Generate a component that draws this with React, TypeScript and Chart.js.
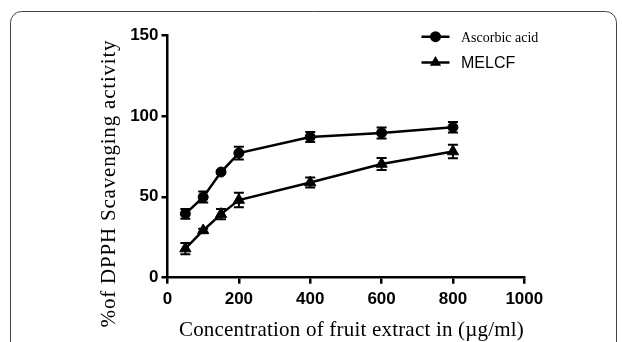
import React, { useEffect, useRef } from "react";
import { Chart, registerables } from "chart.js";

Chart.register(...registerables);

const concentrations = [50, 100, 150, 200, 400, 600, 800];
const ascorbicAcid = [39.5, 49.8, 65.3, 77, 87, 89.5, 93];
const ascorbicErr = [3, 3.4, 1, 3.9, 3.1, 3.4, 3.3];
const melcf = [18, 29.2, 39.3, 48, 58.8, 70.3, 78];
const melcfErr = [3.5, 1, 3.1, 4.5, 3.1, 3.7, 4.1];

const xTicks = [0, 200, 400, 600, 800, 1000];
const yTicks = [0, 50, 100, 150];

const seriesNames = ["Ascorbic acid", "MELCF"];
const xTitle = "Concentration of fruit extract in (\u00b5g/ml)";
const yTitle = "%of DPPH Scavenging activity";

const errorBarPlugin = {
  id: "errorBars",
  afterDatasetsDraw(chart: any) {
    const ctx = chart.ctx;
    const xs = chart.scales.x;
    const ys = chart.scales.y;
    ctx.save();
    ctx.strokeStyle = "#000";
    ctx.lineWidth = 2;
    chart.data.datasets.forEach((ds: any) => {
      const errs: number[] = ds.errors || [];
      ds.data.forEach((p: any, i: number) => {
        const e = errs[i] || 0;
        const px = xs.getPixelForValue(p.x);
        const top = ys.getPixelForValue(p.y + e);
        const bot = ys.getPixelForValue(p.y - e);
        ctx.beginPath();
        ctx.moveTo(px, top);
        ctx.lineTo(px, bot);
        ctx.moveTo(px - 5, top);
        ctx.lineTo(px + 5, top);
        ctx.moveTo(px - 5, bot);
        ctx.lineTo(px + 5, bot);
        ctx.stroke();
      });
    });
    ctx.restore();
  },
};

const decorPlugin = {
  id: "decor",
  afterDraw(chart: any) {
    const ctx = chart.ctx;
    ctx.save();
    // frame
    ctx.strokeStyle = "#444";
    ctx.lineWidth = 1;
    ctx.beginPath();
    const l = 10.5, t = 11.5, r = 616.5, rad = 11;
    ctx.moveTo(l, 360);
    ctx.lineTo(l, t + rad);
    ctx.arcTo(l, t, l + rad, t, rad);
    ctx.lineTo(r - rad, t);
    ctx.arcTo(r, t, r, t + rad, rad);
    ctx.lineTo(r, 360);
    ctx.stroke();

    ctx.fillStyle = "#000";
    // x title
    ctx.font = "21px 'Liberation Serif', 'Times New Roman', serif";
    (ctx as any).letterSpacing = "0.2px";
    ctx.textAlign = "center";
    ctx.textBaseline = "alphabetic";
    ctx.fillText(xTitle, 351.5, 335.5);

    // y title
    ctx.save();
    (ctx as any).letterSpacing = "0.8px";
    ctx.translate(114.5, 183.5);
    ctx.rotate(-Math.PI / 2);
    ctx.fillText(yTitle, 0, 0);
    ctx.restore();
    (ctx as any).letterSpacing = "0px";

    // legend
    ctx.strokeStyle = "#000";
    ctx.lineWidth = 2.5;
    ctx.beginPath();
    ctx.moveTo(421.5, 36.7);
    ctx.lineTo(449.5, 36.7);
    ctx.moveTo(421.5, 62.5);
    ctx.lineTo(449.5, 62.5);
    ctx.stroke();
    ctx.beginPath();
    ctx.arc(435.5, 36.7, 5.5, 0, Math.PI * 2);
    ctx.fill();
    const tr = 6.5;
    ctx.beginPath();
    ctx.moveTo(435.5, 62.5 - tr);
    ctx.lineTo(435.5 + tr * Math.sin((2 * Math.PI) / 3), 62.5 + tr * 0.5);
    ctx.lineTo(435.5 - tr * Math.sin((2 * Math.PI) / 3), 62.5 + tr * 0.5);
    ctx.closePath();
    ctx.fill();

    ctx.textAlign = "left";
    ctx.font = "14px 'Liberation Serif', 'Times New Roman', serif";
    ctx.fillText(seriesNames[0], 461, 41.7);
    ctx.font = "16px 'Liberation Sans', Arial, sans-serif";
    ctx.fillText(seriesNames[1], 461, 67.7);
    ctx.restore();
  },
};

export default function App() {
  const ref = useRef<HTMLCanvasElement | null>(null);
  useEffect(() => {
    if (!ref.current) return;
    const tickFont = { family: "'Liberation Sans', Arial, sans-serif", weight: "bold" as const, size: 17 };
    const chart = new Chart(ref.current, {
      type: "line",
      data: {
        datasets: [
          {
            label: seriesNames[0],
            data: concentrations.map((x, i) => ({ x, y: ascorbicAcid[i] })),
            errors: ascorbicErr,
            borderColor: "#000",
            backgroundColor: "#000",
            borderWidth: 2.5,
            pointStyle: "circle",
            pointRadius: 5,
            pointBorderWidth: 1,
            tension: 0,
          } as any,
          {
            label: seriesNames[1],
            data: concentrations.map((x, i) => ({ x, y: melcf[i] })),
            errors: melcfErr,
            borderColor: "#000",
            backgroundColor: "#000",
            borderWidth: 2.5,
            pointStyle: "triangle",
            pointRadius: 6.5,
            pointBorderWidth: 1,
            tension: 0,
          } as any,
        ],
      },
      options: {
        responsive: false,
        animation: false,
        layout: { padding: { left: 107.5, right: 97.7, top: 35, bottom: 24.3 } },
        plugins: { legend: { display: false }, tooltip: { enabled: false }, title: { display: false } },
        scales: {
          x: {
            type: "linear",
            min: 0,
            max: 1000,
            afterBuildTicks: (s: any) => {
              s.ticks = xTicks.map((v) => ({ value: v }));
            },
            ticks: { font: tickFont, color: "#000", padding: 5, maxRotation: 0, callback: (v: any) => String(v) },
            grid: { drawOnChartArea: false, drawTicks: true, tickLength: 6, color: "#000", lineWidth: 2.5 },
            border: { color: "#000", width: 2.5 },
            afterFit: (s: any) => {
              s.height = 40;
            },
          },
          y: {
            type: "linear",
            min: 0,
            max: 150,
            afterBuildTicks: (s: any) => {
              s.ticks = yTicks.map((v) => ({ value: v }));
            },
            ticks: { font: tickFont, color: "#000", padding: 3, callback: (v: any) => String(v) },
            grid: { drawOnChartArea: false, drawTicks: true, tickLength: 6, color: "#000", lineWidth: 2.5 },
            border: { color: "#000", width: 2.5 },
            afterFit: (s: any) => {
              s.width = 60;
            },
          },
        },
      } as any,
      plugins: [errorBarPlugin, decorPlugin],
    });
    return () => chart.destroy();
  }, []);
  return (
    <div style={{ position: "absolute", left: 0, top: 0, width: 622, height: 342, background: "#fff" }}>
      <canvas ref={ref} width={622} height={342} />
    </div>
  );
}
